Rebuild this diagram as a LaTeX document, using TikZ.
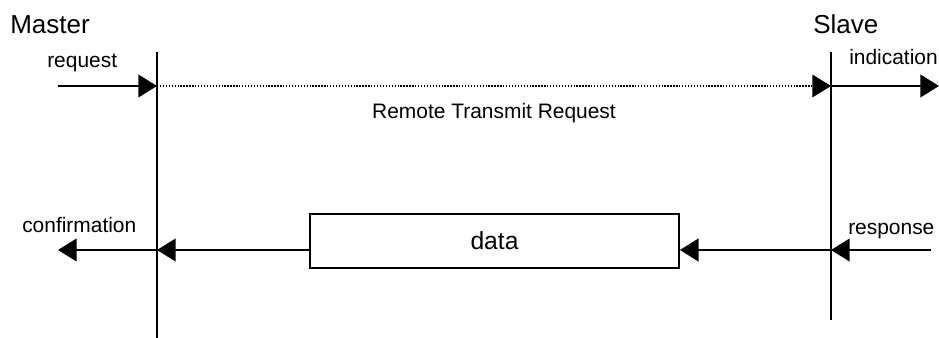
\documentclass[tikz,border=0pt]{standalone}
\usepackage{fontspec}
\setmainfont{Liberation Sans}
\usetikzlibrary{arrows.meta}
\begin{document}
\begin{tikzpicture}[x=0.75pt,y=-0.75pt,
  lifeline/.style={line width=1.3pt},
  msg/.style={line width=1.5pt,-{Triangle[length=14pt,width=17pt]}},
  dotmsg/.style={line width=1pt,dash pattern=on 1pt off 1.2pt,-{Triangle[length=14pt,width=17pt]},
    shorten >=0pt},
  lbl/.style={font=\fontsize{15.7}{18}\selectfont,inner sep=0pt,anchor=base west},
  title/.style={font=\fontsize{19.5}{22}\selectfont,inner sep=0pt,anchor=base west},
  databox/.style={draw,line width=1.3pt,minimum width=369*0.75pt,minimum height=54*0.75pt,
    inner sep=0pt,font=\fontsize{18.5}{21}\selectfont}]
\useasboundingbox (0,0) rectangle (939,338);
% lifelines
\coordinate (mtop) at (157,52);
\coordinate (mbot) at (157,338);
\coordinate (stop) at (831,52);
\coordinate (sbot) at (831,320);
\draw[lifeline] (mtop) -- (mbot);
\draw[lifeline] (stop) -- (sbot);
% titles
\node[title] (master) at (10,34) {Master};
\node[title] (slave) at (813,34) {Slave};
% top messages
\coordinate (reqstart) at (58,86);
\coordinate (mreq) at (157,86);
\coordinate (sind) at (831,86);
\coordinate (indend) at (939,86);
\draw[msg] (reqstart) -- (mreq);
\draw[dotmsg] (mreq) -- (sind);
\draw[msg] (sind) -- (indend);
\node[lbl] (request) at (47,68) {request};
\node[lbl] (indication) at (849,65) {indication};
\node[font=\fontsize{15.7}{18}\selectfont,inner sep=0pt,anchor=base] (rtr) at (494,119) {Remote Transmit Request};
% bottom messages
\node[databox] (data) at (494.5,241) {data};
\coordinate (confend) at (58,250);
\coordinate (mconf) at (157,250);
\coordinate (sresp) at (831,250);
\coordinate (respstart) at (931,250);
\coordinate (dataw) at (data.west |- mconf);
\coordinate (datae) at (data.east |- sresp);
\draw[msg] (respstart) -- (sresp);
\draw[msg] (sresp) -- (datae);
\draw[msg] (dataw) -- (mconf);
\draw[msg] (mconf) -- (confend);
\node[lbl] (confirmation) at (22,233) {confirmation};
\node[lbl] (response) at (848,235) {response};
\end{tikzpicture}
\end{document}
